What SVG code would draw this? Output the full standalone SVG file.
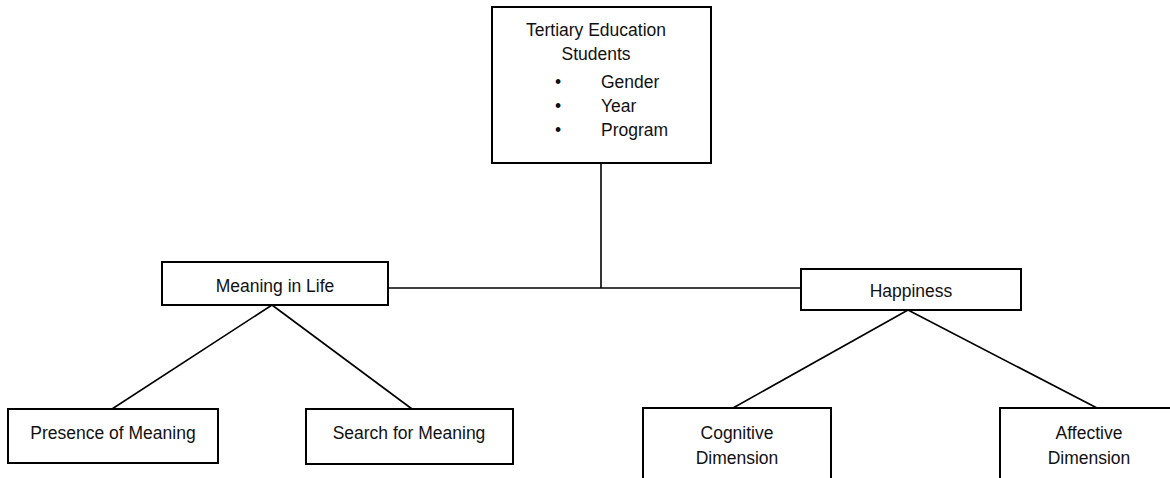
<svg xmlns="http://www.w3.org/2000/svg" width="1170" height="478" viewBox="0 0 1170 478">
<style>
.box{fill:#fff;stroke:#000;stroke-width:2}
.ln{stroke:#000;stroke-width:1.6;fill:none}
text{font-family:"Liberation Sans",Arial,sans-serif;font-size:17.5px;fill:#111}
.c{text-anchor:middle}
</style>
<rect width="1170" height="478" fill="#fff"/>
<g id="connectors">
<line class="ln" x1="601" y1="163" x2="601" y2="288"/>
<line class="ln" x1="388" y1="288" x2="801" y2="288"/>
<line class="ln" x1="272" y1="305" x2="112" y2="409"/>
<line class="ln" x1="272" y1="305" x2="412" y2="409"/>
<line class="ln" x1="908" y1="310" x2="733" y2="408"/>
<line class="ln" x1="908" y1="310" x2="1097" y2="408"/>
</g>
<g id="students">
<rect class="box" x="492" y="7" width="219" height="156"/>
<text class="c" x="596" y="36">Tertiary Education</text>
<text class="c" x="596" y="60">Students</text>
<text x="555" y="88">•</text><text x="601" y="88">Gender</text>
<text x="555" y="112">•</text><text x="601" y="112">Year</text>
<text x="555" y="136">•</text><text x="601" y="136">Program</text>
</g>
<g id="meaning">
<rect class="box" x="162" y="262" width="226" height="43"/>
<text class="c" x="275" y="292">Meaning in Life</text>
</g>
<g id="happiness">
<rect class="box" x="801" y="269" width="220" height="41"/>
<text class="c" x="911" y="297">Happiness</text>
</g>
<g id="presence">
<rect class="box" x="8" y="409" width="210" height="54"/>
<text class="c" x="113" y="439">Presence of Meaning</text>
</g>
<g id="search">
<rect class="box" x="306" y="409" width="207" height="55"/>
<text class="c" x="409" y="439">Search for Meaning</text>
</g>
<g id="cognitive">
<rect class="box" x="643" y="408" width="188" height="90"/>
<text class="c" x="737" y="439">Cognitive</text>
<text class="c" x="737" y="464">Dimension</text>
</g>
<g id="affective">
<rect class="box" x="1000" y="408" width="188" height="90"/>
<text class="c" x="1089" y="439">Affective</text>
<text class="c" x="1089" y="464">Dimension</text>
</g>
</svg>
